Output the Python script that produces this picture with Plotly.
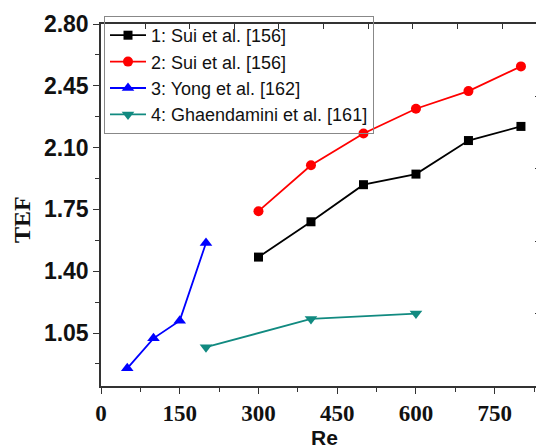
import plotly.graph_objects as go

# ---- data ----
re_sui = [300, 400, 500, 600, 700, 800]
tef_sui_1 = [1.48, 1.68, 1.89, 1.95, 2.14, 2.22]
tef_sui_2 = [1.74, 2.00, 2.18, 2.32, 2.42, 2.56]
re_yong = [50, 100, 150, 200]
tef_yong = [0.85, 1.02, 1.12, 1.56]
re_ghae = [200, 400, 600]
tef_ghae = [0.97, 1.13, 1.16]

names = ["1: Sui et al. [156]", "2: Sui et al. [156]",
         "3: Yong et al. [162]", "4: Ghaendamini et al. [161]"]
colors = ["#000000", "#ff0000", "#0000ff", "#118a80"]
symbols = ["square", "circle", "triangle-up", "triangle-down"]
sizes = [9, 10, 11, 11]
xs = [re_sui, re_sui, re_yong, re_ghae]
ys = [tef_sui_1, tef_sui_2, tef_yong, tef_ghae]

x_ticks = [0, 150, 300, 450, 600, 750]
y_ticks = [1.05, 1.40, 1.75, 2.10, 2.45, 2.80]
y_ticklabels = ["1.05", "1.40", "1.75", "2.10", "2.45", "2.80"]

# page has an 8px body margin; work in page pixels and convert
OFF = 8
W, H = 544 - OFF, 448 - OFF
PL, PR, PT, PB = 101, 543, 24, 386          # plot box in page pixels
L, T = PL - OFF, PT - OFF
R = W - (PR - OFF)
B = H - (PB - OFF)
pw, ph = W - L - R, H - T - B

fig = go.Figure()
for x, y, n, c, s, sz in zip(xs, ys, names, colors, symbols, sizes):
    fig.add_trace(go.Scatter(
        x=x, y=y, name=n, mode="lines+markers",
        line=dict(color=c, width=1.8),
        marker=dict(symbol=s, size=sz, color=c),
    ))

axcol = "#333333"
xr = [0, 842]
yr = [0.75, 2.80]

fig.update_layout(
    width=W, height=H,
    margin=dict(l=L, r=R, t=T, b=B, autoexpand=False),
    paper_bgcolor="white", plot_bgcolor="white",
    showlegend=True,
    legend=dict(
        x=(104 - PL) / pw, y=1 + (PT - 16) / ph, xanchor="left", yanchor="top",
        bgcolor="rgba(0,0,0,0)", bordercolor="#888888", borderwidth=1,
        font=dict(family="Liberation Sans", size=18, color="#111111"),
        itemwidth=36, tracegroupgap=0,
    ),
    xaxis=dict(
        range=xr, tickmode="array", tickvals=x_ticks, automargin=False,
        ticktext=[str(v) for v in x_ticks],
        ticks="outside", ticklen=6, tickwidth=1.3, tickcolor=axcol,
        showline=True, linecolor=axcol, linewidth=1.5,
        showgrid=False, zeroline=False,
        tickfont=dict(family="Liberation Serif", size=23, color="#111111", weight="bold"),
        minor=dict(ticks="outside", ticklen=4, dtick=75, tick0=0, tickcolor=axcol, showgrid=False),
    ),
    yaxis=dict(
        range=yr, tickmode="array", tickvals=y_ticks, ticktext=y_ticklabels, automargin=False,
        ticks="outside", ticklen=6, tickwidth=1.3, tickcolor=axcol,
        showline=True, linecolor=axcol, linewidth=1.5,
        showgrid=False, zeroline=False,
        tickfont=dict(family="Liberation Sans", size=23, color="#111111", weight="bold"),
        minor=dict(ticks="outside", ticklen=4, dtick=0.175, tick0=0.7, tickcolor=axcol, showgrid=False),
    ),
    xaxis2=dict(
        overlaying="x", side="top", range=xr, showticklabels=False, automargin=False,
        tick0=84, dtick=85, ticks="inside", ticklen=5, tickwidth=1, tickcolor=axcol,
        showline=True, linecolor=axcol, linewidth=1.5, showgrid=False, zeroline=False,
    ),
    yaxis2=dict(
        overlaying="y", side="right", range=yr, showticklabels=False, automargin=False,
        tick0=2.387, dtick=0.408, ticks="inside", ticklen=8, tickwidth=1, tickcolor=axcol,
        showline=True, linecolor=axcol, linewidth=1.5, showgrid=False, zeroline=False,
        minor=dict(ticks="inside", ticklen=4, dtick=0.204, tick0=2.387, tickcolor=axcol, showgrid=False),
    ),
    annotations=[
        dict(text="TEF", xref="paper", yref="paper", x=0, y=(PB - 220) / ph,
             xshift=-(PL - 22), textangle=-90, showarrow=False,
             xanchor="center", yanchor="middle",
             font=dict(family="Liberation Serif", size=24, color="#111111", weight="bold")),
        dict(text="Re", xref="paper", yref="paper", x=(324 - PL) / pw, y=0,
             yshift=-(437 - PB), showarrow=False,
             xanchor="center", yanchor="middle",
             font=dict(family="Liberation Sans", size=21, color="#111111", weight="bold")),
    ],
)
# invisible trace to activate the mirrored axes
fig.add_trace(go.Scatter(x=[None], y=[None], xaxis="x2", yaxis="y2",
                         showlegend=False, hoverinfo="skip"))

fig.write_html("out.html")
